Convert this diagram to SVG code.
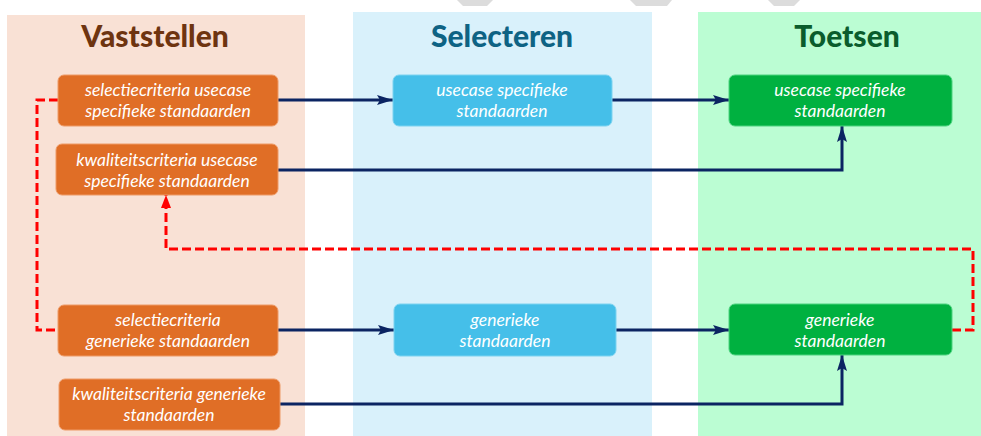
<svg xmlns="http://www.w3.org/2000/svg" width="981" height="436" viewBox="0 0 981 436">
  <defs>
    <marker id="navyArrow" viewBox="0 0 16 10" refX="16" refY="5" markerWidth="16" markerHeight="10" markerUnits="userSpaceOnUse" orient="auto">
      <path d="M0,0 L16,5 L0,10 L3,5 Z" fill="#0B2462"/>
    </marker>
    <marker id="redArrow" viewBox="0 0 13 10" refX="13" refY="5" markerWidth="13" markerHeight="10" markerUnits="userSpaceOnUse" orient="auto">
      <path d="M0,0 L13,5 L0,10 Z" fill="#FF0000"/>
    </marker>
    <style>
      .title { font-family: Lato, "Liberation Sans", sans-serif; font-weight: 900; font-size: 30px; text-anchor: middle; }
      .label { font-family: Lato, "Liberation Sans", sans-serif; font-style: italic; font-size: 17.5px; fill: #FFFFFF; text-anchor: middle; }
      .orange { fill: #E06E26; stroke: #EE9A66; stroke-width: 1; }
      .blue { fill: #45BFE9; stroke: #7DD3F0; stroke-width: 1; }
      .green { fill: #00B140; stroke: #4CD37F; stroke-width: 1; }
      .flow { fill: none; stroke: #0B2462; stroke-width: 3; }
      .feedback { fill: none; stroke: #FF0000; stroke-width: 3; stroke-dasharray: 9 4; }
    </style>
  </defs>

  <!-- decorative grey shapes along the top edge -->
  <g fill="#DCDCDC">
    <polygon points="457,0 493,0 487,6 463,6"/>
    <polygon points="630,0 672,0 667,6 636,6"/>
    <polygon points="768,0 800,0 794,6 774,6"/>
  </g>

  <!-- swimlane backgrounds -->
  <g id="lane-vaststellen">
    <rect x="7" y="15" width="298" height="421" fill="#F9E1D5"/>
    <text class="title" x="155" y="47" fill="#6E3410">Vaststellen</text>
  </g>
  <g id="lane-selecteren">
    <rect x="353" y="12" width="299" height="424" fill="#D9F1FB"/>
    <text class="title" x="502" y="47" fill="#0E6384">Selecteren</text>
  </g>
  <g id="lane-toetsen">
    <rect x="698" y="12" width="283" height="424" fill="#BBFDD3"/>
    <text class="title" x="847" y="47" fill="#0A5C2C">Toetsen</text>
  </g>

  <!-- connectors -->
  <g id="connectors">
    <path class="flow" d="M278,100 H393" marker-end="url(#navyArrow)"/>
    <path class="flow" d="M612,100 H729" marker-end="url(#navyArrow)"/>
    <path class="flow" d="M278,170 H842 V126" marker-end="url(#navyArrow)"/>
    <path class="flow" d="M278,330 H394" marker-end="url(#navyArrow)"/>
    <path class="flow" d="M616,330 H729" marker-end="url(#navyArrow)"/>
    <path class="flow" d="M280,404 H842 V355" marker-end="url(#navyArrow)"/>
    <path class="feedback" d="M58,100 H37 V330 H58"/>
    <path class="feedback" d="M952,330 H973 V249 H166 V195" marker-end="url(#redArrow)"/>
  </g>

  <!-- Vaststellen nodes -->
  <g id="sel-usecase">
    <rect class="orange" x="58" y="75" width="220" height="51" rx="6"/>
    <text class="label" x="168" y="96">selectiecriteria usecase</text>
    <text class="label" x="168" y="117">specifieke standaarden</text>
  </g>
  <g id="kwal-usecase">
    <rect class="orange" x="56" y="144" width="222" height="51" rx="6"/>
    <text class="label" x="167" y="166">kwaliteitscriteria  usecase</text>
    <text class="label" x="167" y="187">specifieke standaarden</text>
  </g>
  <g id="sel-generiek">
    <rect class="orange" x="58" y="305" width="220" height="51" rx="6"/>
    <text class="label" x="168" y="326">selectiecriteria</text>
    <text class="label" x="168" y="347">generieke standaarden</text>
  </g>
  <g id="kwal-generiek">
    <rect class="orange" x="59" y="379" width="221" height="51" rx="6"/>
    <text class="label" x="169" y="400">kwaliteitscriteria  generieke</text>
    <text class="label" x="169" y="421">standaarden</text>
  </g>

  <!-- Selecteren nodes -->
  <g id="selecteren-usecase">
    <rect class="blue" x="393" y="75" width="219" height="51" rx="6"/>
    <text class="label" x="502" y="96">usecase specifieke</text>
    <text class="label" x="502" y="117">standaarden</text>
  </g>
  <g id="selecteren-generiek">
    <rect class="blue" x="394" y="304" width="222" height="52" rx="6"/>
    <text class="label" x="505" y="326">generieke</text>
    <text class="label" x="505" y="347">standaarden</text>
  </g>

  <!-- Toetsen nodes -->
  <g id="toetsen-usecase">
    <rect class="green" x="729" y="75" width="223" height="51" rx="6"/>
    <text class="label" x="840" y="96">usecase specifieke</text>
    <text class="label" x="840" y="117">standaarden</text>
  </g>
  <g id="toetsen-generiek">
    <rect class="green" x="729" y="304" width="223" height="51" rx="6"/>
    <text class="label" x="840" y="326">generieke</text>
    <text class="label" x="840" y="347">standaarden</text>
  </g>
</svg>
